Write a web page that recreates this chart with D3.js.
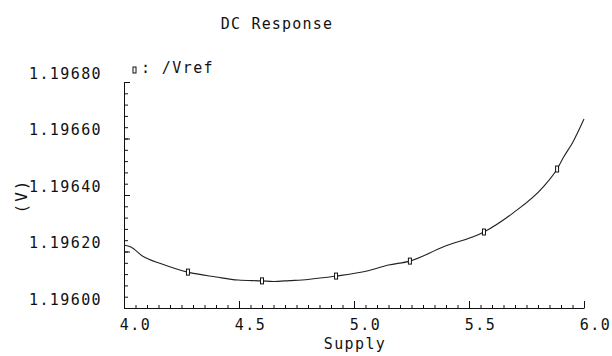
<!DOCTYPE html>
<html>
<head>
<meta charset="utf-8">
<script src="https://cdn.jsdelivr.net/npm/d3@7"></script>
<style>
  body { margin: 0; background: #fff; }
  text { font-family: "DejaVu Sans Mono", monospace; fill: #111; }
</style>
</head>
<body>
<script>
// DC sweep of the reference voltage against supply
var supply = [4.0, 4.03, 4.08, 4.165, 4.278, 4.4, 4.496, 4.6, 4.65, 4.72, 4.8, 4.922,
              5.057, 5.15, 5.243, 5.387, 5.565, 5.691, 5.822, 5.883, 5.909, 5.952, 6.0];
var vref = [1.196223, 1.196216, 1.196184, 1.196156, 1.196127, 1.196110, 1.196099, 1.196096,
            1.196094, 1.196097, 1.196101, 1.196113, 1.196131, 1.196152, 1.196166, 1.196216,
            1.196269, 1.196336, 1.196428, 1.196492, 1.196531, 1.196588, 1.196669];
// indexes of the points that get a marker
var markerIdx = [4, 7, 11, 14, 16, 19];

var xTicks = [4.0, 4.5, 5.0, 5.5, 6.0];
var yTicks = [1.1960, 1.1962, 1.1964, 1.1966, 1.1968];

var W = 612, H = 356;
var margin = {top: 82, right: 28, bottom: 48, left: 124};
var fs = "15px", ls = "1.4px";

var svg = d3.select("body").append("svg")
    .attr("width", W)
    .attr("height", H);

var x = d3.scaleLinear().domain([4.0, 6.0]).range([margin.left, W - margin.right]);
var y = d3.scaleLinear().domain([1.1960, 1.1968]).range([H - margin.bottom, margin.top]);

var xMinor = d3.range(0, 41).map(function(i) { return 4.0 + i * 0.05; });
var yMinor = d3.range(0, 21).map(function(i) { return 1.1960 + i * 0.00004; });

// minor ticks first
svg.append("g")
    .attr("transform", "translate(0," + y.range()[0] + ")")
    .call(d3.axisBottom(x).tickValues(xMinor).tickFormat("").tickSize(-3).tickSizeOuter(0))
    .call(function(g) { g.select(".domain").remove(); });
svg.append("g")
    .attr("transform", "translate(" + x.range()[0] + ",0)")
    .call(d3.axisLeft(y).tickValues(yMinor).tickFormat("").tickSize(-4).tickSizeOuter(0))
    .call(function(g) { g.select(".domain").remove(); });

// major x axis
var gx = svg.append("g")
    .attr("transform", "translate(0," + y.range()[0] + ")")
    .call(d3.axisBottom(x).tickValues(xTicks).tickFormat(d3.format(".1f"))
      .tickSize(-7).tickSizeOuter(0).tickPadding(0));
gx.selectAll("text")
    .attr("y", 22).attr("dy", null)
    .attr("x", 11)
    .style("font-size", fs)
    .style("letter-spacing", ls);

// major y axis
var gy = svg.append("g")
    .attr("transform", "translate(" + x.range()[0] + ",0)")
    .call(d3.axisLeft(y).tickValues(yTicks).tickFormat(d3.format(".5f"))
      .tickSize(-6).tickSizeOuter(0).tickPadding(22));
gy.selectAll("text")
    .attr("dy", -4)
    .style("font-size", fs)
    .style("letter-spacing", ls);

svg.selectAll(".domain, .tick line").attr("stroke", "#111");
svg.selectAll(".tick text").attr("font-family", null);

// curve
var line = d3.line()
    .x(function(d, i) { return x(supply[i]); })
    .y(function(d) { return y(d); })
    .curve(d3.curveMonotoneX);

svg.append("path")
    .datum(vref)
    .attr("fill", "none")
    .attr("stroke", "#222")
    .attr("stroke-width", 1.1)
    .attr("d", line);

svg.selectAll("rect.mark")
    .data(markerIdx)
  .enter().append("rect")
    .attr("class", "mark")
    .attr("x", function(i) { return x(supply[i]) - 1.5; })
    .attr("y", function(i) { return y(vref[i]) - 3; })
    .attr("width", 3)
    .attr("height", 6)
    .attr("fill", "#fff")
    .attr("stroke", "#111")
    .attr("stroke-width", 1);

// title and labels
svg.append("text")
    .attr("x", 277).attr("y", 29)
    .attr("text-anchor", "middle")
    .style("font-size", fs)
    .style("letter-spacing", "1.2px")
    .text("DC Response");

svg.append("text")
    .attr("x", (x.range()[0] + x.range()[1]) / 2 + 1).attr("y", 349)
    .attr("text-anchor", "middle")
    .style("font-size", fs)
    .style("letter-spacing", ls)
    .text("Supply");

svg.append("text")
    .attr("transform", "translate(27,196) rotate(-90)")
    .attr("text-anchor", "middle")
    .style("font-size", "16px")
    .style("letter-spacing", "2px")
    .text("(V)");

// legend
svg.append("rect")
    .attr("x", 133).attr("y", 67)
    .attr("width", 3).attr("height", 6)
    .attr("fill", "#fff").attr("stroke", "#111");
svg.append("text")
    .attr("x", 141).attr("y", 73)
    .style("font-size", fs)
    .style("letter-spacing", ls)
    .text(": /Vref");
</script>
</body>
</html>
